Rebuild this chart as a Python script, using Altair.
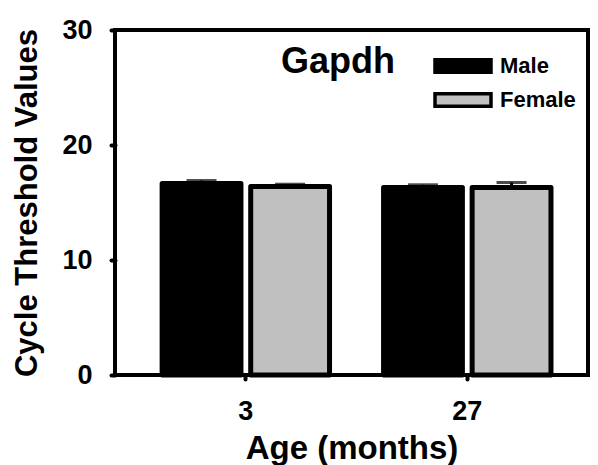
import altair as alt
import pandas as pd

# ---- data ----
ages = ["3", "27"]
sexes = ["Male", "Female"]
male_ct = [16.65, 16.30]
female_ct = [16.39, 16.30]
male_sem = [0.26, 0.24]
female_sem = [0.20, 0.44]
bar_colors = ["#000000", "#c0c0c0"]
y_ticks = [0, 10, 20, 30]

rows = []
for i, a in enumerate(ages):
    rows.append({"age": a, "sex": "Male", "ct": male_ct[i], "sem": male_sem[i]})
    rows.append({"age": a, "sex": "Female", "ct": female_ct[i], "sem": female_sem[i]})
df = pd.DataFrame(rows)
df["hi"] = df["ct"] + df["sem"]

FONT = "Liberation Sans"

x_axis = alt.Axis(
    title="Age (months)", labelAngle=0, domain=False, grid=False,
    ticks=True, tickColor="black", tickSize=4, tickWidth=4, tickCap="round",
    labelFont=FONT, labelFontSize=27, labelFontWeight="bold", labelColor="black",
    labelPadding=19,
    titleFont=FONT, titleFontSize=33, titleFontWeight="bold", titleColor="black",
    titleY=83, titleBaseline="alphabetic",
)
y_axis = alt.Axis(
    title="Cycle Threshold Values", values=y_ticks, domain=False, grid=False,
    ticks=True, tickColor="black", tickSize=4, tickWidth=4, tickCap="round",
    labelFont=FONT, labelFontSize=27, labelFontWeight="bold", labelColor="black",
    labelPadding=19,
    titleFont=FONT, titleFontSize=31, titleFontWeight="bold", titleColor="black",
    titleX=-79, titleBaseline="alphabetic",
)

x_enc = alt.X("age:N", sort=ages,
              scale=alt.Scale(paddingInner=0.244, paddingOuter=0.19, align=0.56),
              axis=x_axis)
xo_enc = alt.XOffset("sex:N", sort=sexes, scale=alt.Scale(paddingInner=0.11))
y_scale = alt.Scale(domain=[0, 30], nice=False)

base = alt.Chart(df)

err_rule = base.mark_rule(color="black", strokeWidth=3).encode(
    x=x_enc, xOffset=xo_enc,
    y=alt.Y("ct:Q", scale=y_scale, axis=y_axis),
    y2="hi:Q",
)
err_cap = base.mark_tick(color="black", thickness=3, size=30).encode(
    x=x_enc, xOffset=xo_enc,
    y=alt.Y("hi:Q", scale=y_scale, axis=y_axis),
)
bars = base.mark_bar(stroke="black", strokeWidth=5, strokeJoin="round").encode(
    x=x_enc, xOffset=xo_enc,
    y=alt.Y("ct:Q", scale=y_scale, axis=y_axis),
    color=alt.Color(
        "sex:N", sort=sexes,
        scale=alt.Scale(domain=sexes, range=bar_colors),
        legend=alt.Legend(
            title=None, orient="none", legendX=337, legendY=25,
            symbolType="M-4,-0.88L4,-0.88L4,0.88L-4,0.88Z", symbolSize=196,
            symbolStrokeColor="black", symbolStrokeWidth=3.5, symbolOpacity=1,
            labelFont=FONT, labelFontSize=22, labelFontWeight="bold",
            labelColor="black", labelOffset=26, rowPadding=6, padding=0,
        ),
    ),
)

chart = alt.layer(err_rule, err_cap, bars).properties(
    width=473,
    height=345,
    autosize=alt.AutoSizeParams(type="none"),
    padding={"left": 107, "top": 22, "right": 2, "bottom": 90},
    title=alt.TitleParams(
        "Gapdh", anchor="start", frame="group", orient="top",
        font=FONT, fontSize=36, fontWeight="bold", color="black",
        dx=166, dy=93, offset=0, baseline="alphabetic",
    ),
).configure(
    background="white"
).configure_view(
    stroke="black", strokeWidth=4
)

chart.save("out.html", embed_options={"renderer": "svg", "actions": False})
